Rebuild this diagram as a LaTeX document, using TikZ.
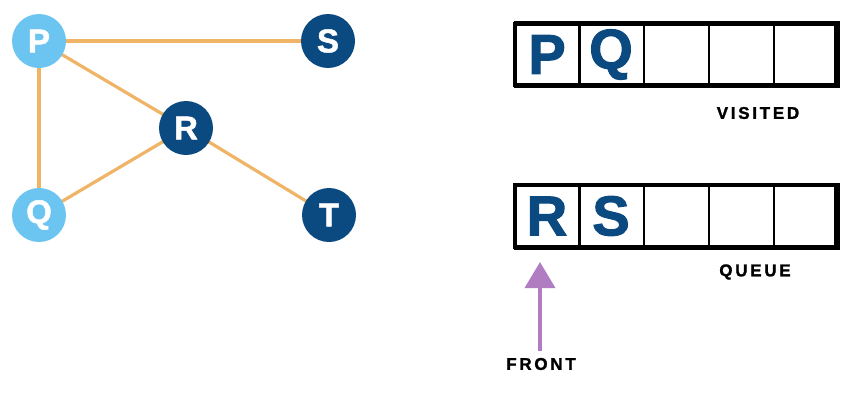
\documentclass[tikz,border=0pt]{standalone}
\usepackage{fontspec}
\setmainfont{Liberation Sans}
\usetikzlibrary{arrows.meta,backgrounds}
\definecolor{lightblue}{HTML}{6CC5F0}
\definecolor{darkblue}{HTML}{0B4A80}
\definecolor{edgeorange}{HTML}{F0B466}
\definecolor{arrowpurple}{HTML}{B07DC2}
\tikzset{
  vert/.style={circle, minimum size=54pt, inner sep=0pt, text=white, font=\fontsize{33}{33}\selectfont\bfseries\addfontfeatures{FakeBold=1.5}},
  seen/.style={vert, fill=lightblue},
  unseen/.style={vert, fill=darkblue},
  edge/.style={draw=edgeorange, line width=3.2pt},
  cell/.style={rectangle, draw=black, line width=2pt, minimum width=65pt, minimum height=65pt, inner sep=0pt, text=darkblue, font=\fontsize{56}{56}\selectfont\bfseries\addfontfeatures{FakeBold=2}},
  frame/.style={draw=black, line width=4pt},
  lbl/.style={inner sep=0pt, font=\fontsize{17}{17}\selectfont\bfseries\addfontfeatures{LetterSpace=16,FakeBold=1.5}},
}
\begin{document}
\begin{tikzpicture}[x=1pt, y=-1pt]
\useasboundingbox (0,0) rectangle (841,394);
% graph
\node[seen] (P) at (39,41) {P};
\node[unseen] (S) at (328,41) {S};
\node[unseen] (R) at (186,128) {R};
\node[seen] (Q) at (39,215) {Q};
\node[unseen] (T) at (329,215) {T};
\begin{pgfonlayer}{background}
\draw[edge] (P.center) -- (S.center);
\draw[edge] (P.center) -- (R.center);
\draw[edge] (P.center) -- (Q.center);
\draw[edge] (Q.center) -- (R.center);
\draw[edge] (R.center) -- (T.center);
\end{pgfonlayer}
% visited
\node[cell] (v1) at (547,54.5) {P};
\node[cell] (v2) at (611,54.5) {Q};
\node[cell] (v3) at (676,54.5) {};
\node[cell] (v4) at (741,54.5) {};
\node[cell] (v5) at (806,54.5) {};
\draw[frame] (515,24) rectangle (836,85);
\node[lbl] (visited) at (758,113) {VISITED};
% queue
\node[cell] (q1) at (547,216) {R};
\node[cell] (q2) at (611,216) {S};
\node[cell] (q3) at (676,216) {};
\node[cell] (q4) at (741,216) {};
\node[cell] (q5) at (806,216) {};
\draw[frame] (515,185) rectangle (836,247);
\node[lbl] (queue) at (755,272) {QUEUE};
% front arrow
\node[lbl] (front) at (541,364) {FRONT};
\coordinate (tip) at (540,262);
\draw[draw=arrowpurple, line width=3.5pt, -{Triangle[width=30pt,length=26pt]}] (front.north -| tip) ++(0,-7) -- (tip);
\end{tikzpicture}
\end{document}
